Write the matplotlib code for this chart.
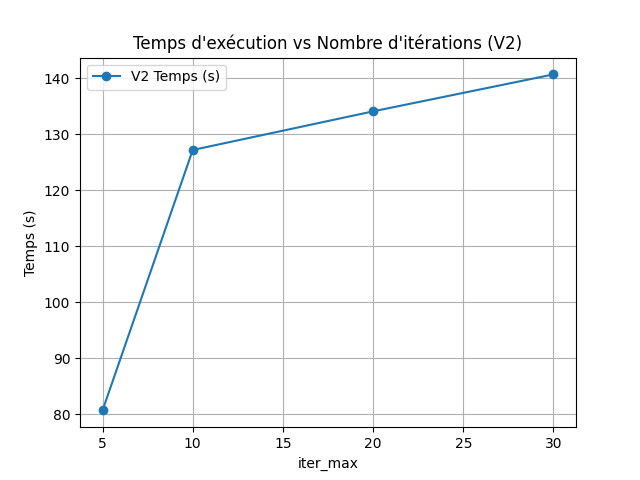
import matplotlib
matplotlib.use("Agg")
import matplotlib.pyplot as plt

# data
iter_max = [5, 10, 20, 30]
temps = [80.7, 127.2, 134.1, 140.7]

fig = plt.figure(figsize=(6.4, 4.8), dpi=100)
plt.plot(iter_max, temps, marker="o", label="V2 Temps (s)")
plt.title("Temps d'exécution vs Nombre d'itérations (V2)")
plt.xlabel("iter_max")
plt.ylabel("Temps (s)")
plt.grid(True)
plt.legend()

plt.savefig("out.png")
